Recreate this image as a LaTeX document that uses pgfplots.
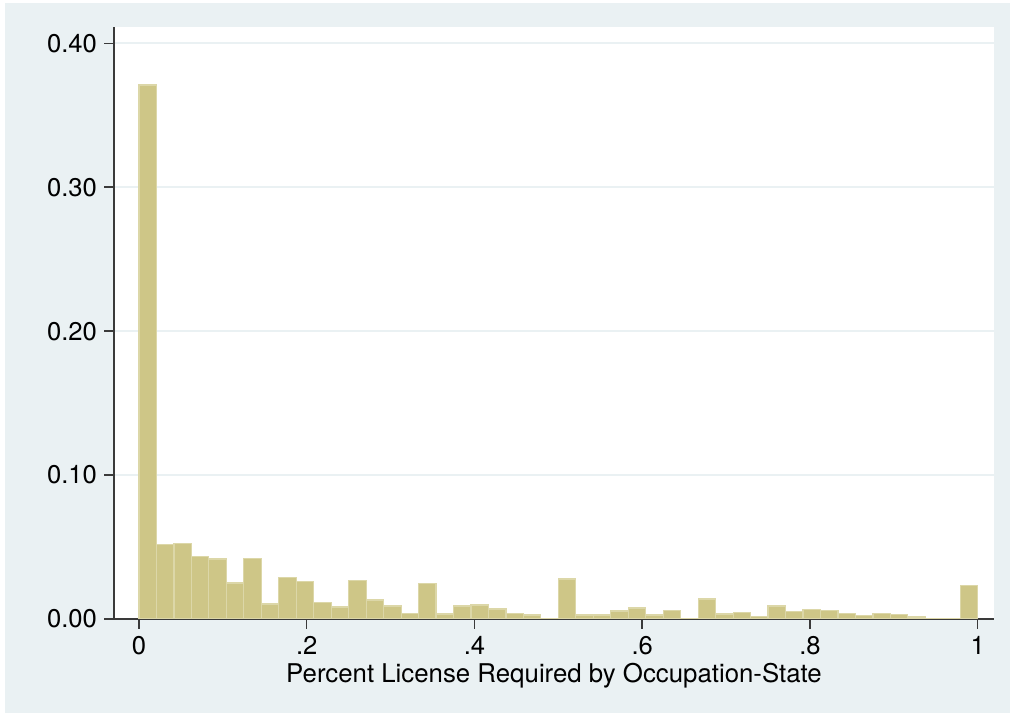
\documentclass[border=0pt]{standalone}
\usepackage{pgfplots}
\pgfplotsset{compat=1.18}
\usepackage{pgfplotstable}
\usepackage{fontspec}
\setmainfont{TeX Gyre Heros}

\definecolor{bgc}{HTML}{EAF1F3}
\definecolor{barfill}{HTML}{CEC687}
\definecolor{baredge}{HTML}{DCD7A8}
\definecolor{axc}{HTML}{3A3A3A}

% fraction of occupation-states in each of 48 bins (left edge, fraction)
\pgfplotstableread{
x        f
0        0.3710
0.020833 0.0517
0.041667 0.0524
0.0625   0.0436
0.083333 0.0417
0.104167 0.0250
0.125    0.0422
0.145833 0.0104
0.166667 0.0290
0.1875   0.0260
0.208333 0.0116
0.229167 0.0084
0.25     0.0267
0.270833 0.0132
0.291667 0.0090
0.3125   0.0039
0.333333 0.0244
0.354167 0.0035
0.375    0.0090
0.395833 0.0097
0.416667 0.0070
0.4375   0.0039
0.458333 0.0028
0.479167 0.0005
0.5      0.0278
0.520833 0.0028
0.541667 0.0028
0.5625   0.0056
0.583333 0.0077
0.604167 0.0028
0.625    0.0058
0.645833 0.0005
0.666667 0.0139
0.6875   0.0035
0.708333 0.0044
0.729167 0.0016
0.75     0.0090
0.770833 0.0051
0.791667 0.0065
0.8125   0.0058
0.833333 0.0039
0.854167 0.0023
0.875    0.0037
0.895833 0.0033
0.916667 0.0014
0.9375   0.0003
0.958333 0.0005
0.979167 0.0230
1        0.0230
}\histdata

\begin{document}
\begin{tikzpicture}
\fill[white] (0,0) rectangle (505pt,357.5pt);
\fill[bgc] (2.5pt,1pt) rectangle (505pt,356pt);
\begin{axis}[
  at={(57pt,48pt)}, anchor=south west,
  scale only axis, width=440pt, height=296pt,
  xmin=-0.0298, xmax=1.0194, ymin=0, ymax=0.4113,
  axis x line*=bottom, axis y line*=left,
  axis background/.style={fill=white},
  axis line style={color=axc, line width=0.75pt},
  xtick={0,0.2,0.4,0.6,0.8,1},
  xticklabels={0,.2,.4,.6,.8,1},
  ytick={0,0.1,0.2,0.3,0.4},
  yticklabels={0.00,0.10,0.20,0.30,0.40},
  tick align=outside,
  major tick length=5pt,
  tick style={color=axc, line width=0.75pt},
  ymajorgrids,
  grid style={color=bgc, line width=1pt},
  tick label style={font=\fontsize{12.8}{14}\selectfont},
  label style={font=\fontsize{12.9}{14}\selectfont},
  xlabel style={yshift=2.5pt},
  xlabel={Percent License Required by Occupation-State},
]
\addplot[ybar interval, fill=barfill, draw=baredge, line width=0.6pt]
  table[x=x, y=f] {\histdata};
\end{axis}
\end{tikzpicture}
\end{document}
